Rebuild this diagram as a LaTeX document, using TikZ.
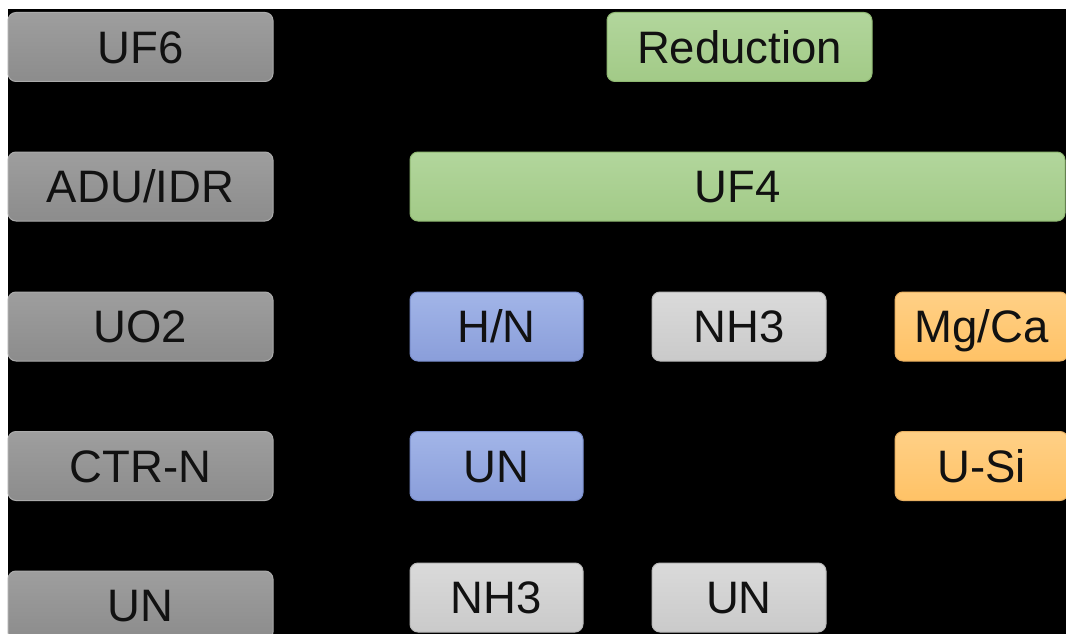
\documentclass[tikz,border=0pt]{standalone}
\usepackage{fontspec}
\setmainfont{Liberation Sans}
\definecolor{gtop}{HTML}{9E9E9E}
\definecolor{gbot}{HTML}{8C8C8C}
\definecolor{gdraw}{HTML}{ABABAB}
\definecolor{grtop}{HTML}{B2D69C}
\definecolor{grbot}{HTML}{A2CA87}
\definecolor{grdraw}{HTML}{8FB872}
\definecolor{bltop}{HTML}{A2B5E8}
\definecolor{blbot}{HTML}{8A9EDA}
\definecolor{bldraw}{HTML}{7A8ECC}
\definecolor{lgtop}{HTML}{DADADA}
\definecolor{lgbot}{HTML}{CACACA}
\definecolor{lgdraw}{HTML}{B8B8B8}
\definecolor{ortop}{HTML}{FFD086}
\definecolor{orbot}{HTML}{FFC266}
\definecolor{ordraw}{HTML}{E8B062}
\definecolor{txt}{HTML}{111111}
\tikzset{
  box/.style={rounded corners=8pt, line width=1pt, inner sep=0pt,
    minimum height=69pt, font=\fontsize{45.5}{45.5}\selectfont, text=txt,
    text height=32.6pt, text depth=0pt},
  graybox/.style={box, draw=gdraw, top color=gtop, bottom color=gbot, minimum width=265pt},
  greenbox/.style={box, draw=grdraw, top color=grtop, bottom color=grbot},
  bluebox/.style={box, draw=bldraw, top color=bltop, bottom color=blbot, minimum width=173pt},
  lgraybox/.style={box, draw=lgdraw, top color=lgtop, bottom color=lgbot, minimum width=174pt},
  orangebox/.style={box, draw=ordraw, top color=ortop, bottom color=orbot, minimum width=173pt}
}
\begin{document}
\begin{tikzpicture}[x=1pt,y=-1pt]
\useasboundingbox (0,0) rectangle (1066,634);
\fill[white] (0,0) rectangle (1066,634);
\fill[black] (8,9) rectangle (1066,634);
% left column
\node[graybox] (uf6) at (140.5,47) {UF6};
\node[graybox] (adu) at (140.5,186.5) {ADU/IDR};
\node[graybox] (uo2) at (140.5,326.5) {UO2};
\node[graybox] (ctrn) at (140.5,466) {CTR-N};
\node[graybox] (unl) at (140.5,605.5) {UN};
% green
\node[greenbox, minimum width=265pt] (red) at (739.5,47) {Reduction};
\node[greenbox, minimum width=655pt] (uf4) at (737.5,186.5) {UF4};
% row 3
\node[bluebox] (hn) at (496.5,326.5) {H/N};
\node[lgraybox] (nh3a) at (739,326.5) {NH3};
\node[orangebox] (mgca) at (981.5,326.5) {Mg/Ca};
% row 4
\node[bluebox] (unb) at (496.5,466) {UN};
\node[orangebox] (usi) at (981.5,466) {U-Si};
% row 5
\node[lgraybox, minimum width=173pt] (nh3b) at (496.5,597.5) {NH3};
\node[lgraybox] (unc) at (739,597.5) {UN};
\end{tikzpicture}
\end{document}
